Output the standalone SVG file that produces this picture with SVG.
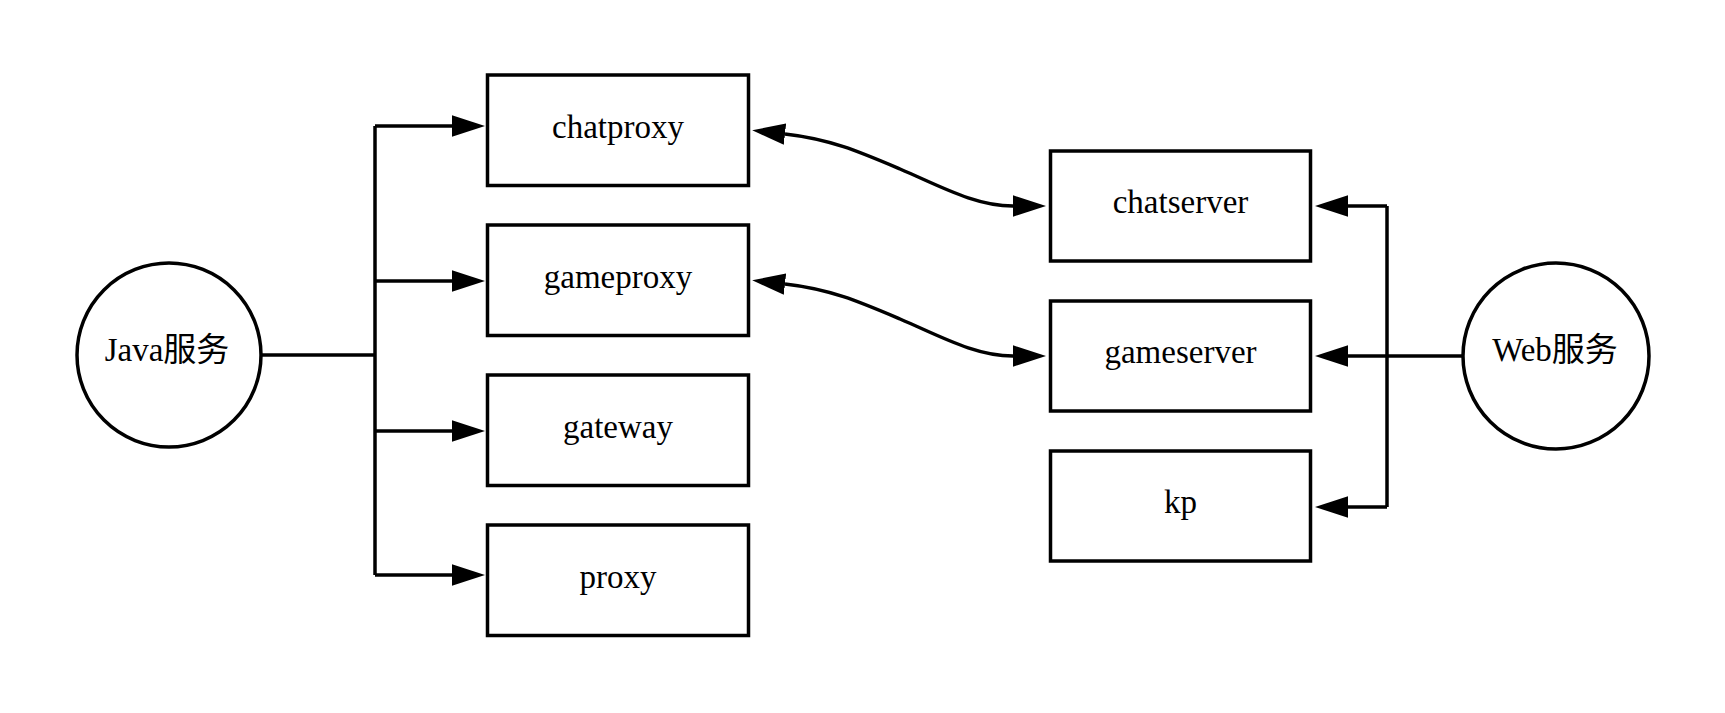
<svg xmlns="http://www.w3.org/2000/svg" width="1725" height="713" viewBox="0 0 1725 713">
<style>
.box{fill:#fff;stroke:#000;stroke-width:3.5}
.ell{fill:#fff;stroke:#000;stroke-width:3.5}
.lbl{font-family:"Liberation Serif","Noto Sans CJK SC",serif;font-size:33px;fill:#000;text-anchor:middle}
.edge{fill:none;stroke:#000;stroke-width:3.5}
</style>
<defs>
<marker id="arr" markerUnits="userSpaceOnUse" markerWidth="34" markerHeight="22" viewBox="0 0 34 22" refX="0" refY="11" orient="auto-start-reverse">
<path d="M0,0.3 L33,11 L0,21.7 Z" fill="#000"/>
</marker>
</defs>
<rect width="1725" height="713" fill="#fff"/>
<g id="connectors">
<path class="edge" d="M262,355 H375"/>
<path class="edge" d="M375,126 V575"/>
<path class="edge" d="M375,126 H452" marker-end="url(#arr)"/>
<path class="edge" d="M375,281 H452" marker-end="url(#arr)"/>
<path class="edge" d="M375,431 H452" marker-end="url(#arr)"/>
<path class="edge" d="M375,575 H452" marker-end="url(#arr)"/>
<path class="edge" d="M785,134 C830,139 860,152 900,169 S975,206 1013,206" marker-start="url(#arr)" marker-end="url(#arr)"/>
<path class="edge" d="M785,284 C830,289 860,302 900,319 S975,356 1013,356" marker-start="url(#arr)" marker-end="url(#arr)"/>
<path class="edge" d="M1462,356 H1348" marker-end="url(#arr)"/>
<path class="edge" d="M1387,206 V507"/>
<path class="edge" d="M1387,206 H1348" marker-end="url(#arr)"/>
<path class="edge" d="M1387,507 H1348" marker-end="url(#arr)"/>
</g>
<g id="java"><circle class="ell" cx="169" cy="355" r="92"/><text class="lbl" x="167" y="361">Java服务</text></g>
<g id="chatproxy"><rect class="box" x="487.5" y="75" width="261" height="110.5"/><text class="lbl" x="618" y="138">chatproxy</text></g>
<g id="gameproxy"><rect class="box" x="487.5" y="225" width="261" height="110.5"/><text class="lbl" x="618" y="288">gameproxy</text></g>
<g id="gateway"><rect class="box" x="487.5" y="375" width="261" height="110.5"/><text class="lbl" x="618" y="438">gateway</text></g>
<g id="proxy"><rect class="box" x="487.5" y="525" width="261" height="110.5"/><text class="lbl" x="618" y="588">proxy</text></g>
<g id="chatserver"><rect class="box" x="1050.5" y="151" width="260" height="110"/><text class="lbl" x="1180.5" y="213">chatserver</text></g>
<g id="gameserver"><rect class="box" x="1050.5" y="301" width="260" height="110"/><text class="lbl" x="1180.5" y="363">gameserver</text></g>
<g id="kp"><rect class="box" x="1050.5" y="451" width="260" height="110"/><text class="lbl" x="1180.5" y="513">kp</text></g>
<g id="web"><circle class="ell" cx="1556" cy="356" r="93"/><text class="lbl" x="1555" y="361">Web服务</text></g>
</svg>
